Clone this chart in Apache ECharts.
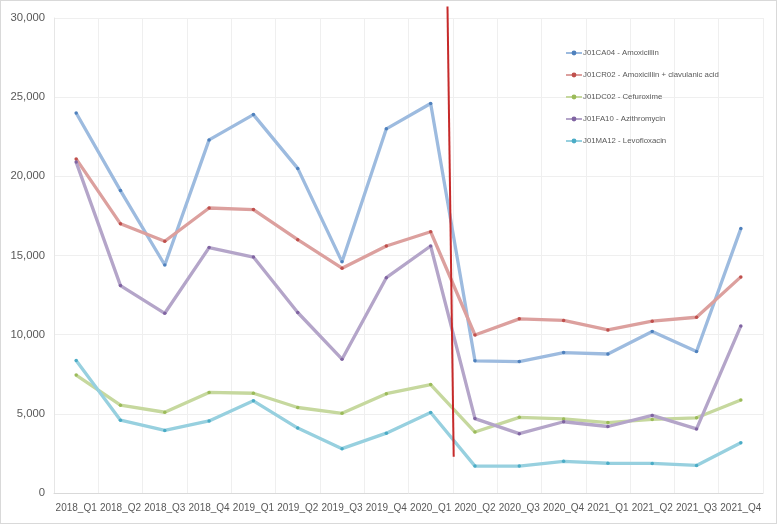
<!DOCTYPE html>
<html>
<head>
<meta charset="utf-8">
<script src="https://cdn.jsdelivr.net/npm/echarts@6/dist/echarts.min.js"></script>
<style>
html,body{margin:0;padding:0;background:#fff;}
#c{width:775px;height:522px;border:1px solid #d9d9d9;}
</style>
</head>
<body>
<div id="c"></div>
<script>
var categories = ['2018_Q1','2018_Q2','2018_Q3','2018_Q4','2019_Q1','2019_Q2','2019_Q3','2019_Q4','2020_Q1','2020_Q2','2020_Q3','2020_Q4','2021_Q1','2021_Q2','2021_Q3','2021_Q4'];
var seriesNames = ['J01CA04 - Amoxicillin','J01CR02 - Amoxicillin + clavulanic acid','J01DC02 - Cefuroxime','J01FA10 - Azithromycin','J01MA12 - Levofloxacin'];
var amoxicillin   = [24000,19100,14400,22300,23900,20500,14600,23000,24600,8350,8300,8870,8780,10200,8940,16700];
var amoxiClav     = [21100,17000,15900,18000,17900,16000,14200,15600,16500,9980,11000,10900,10300,10850,11100,13650];
var cefuroxime    = [7450,5550,5100,6350,6300,5400,5030,6270,6850,3850,4780,4680,4450,4650,4750,5870];
var azithromycin  = [20900,13100,11350,15500,14900,11400,8450,13600,15600,4700,3750,4500,4200,4900,4050,10550];
var levofloxacin  = [8370,4600,3950,4550,5820,4100,2800,3780,5080,1700,1700,2000,1880,1870,1740,3170];
var yTicks = [0,5000,10000,15000,20000,25000,30000];
// annotation line (vertical divider) endpoints in data space: [category position, value]
var dividerTop = [8.38, 30730];
var dividerBottom = [8.52, 2290];

var lineColors = ['#9dbbdf','#dca09e','#c6d89e','#b4a5c9','#97d0df'];
var dotColors  = ['#4f81bd','#c0504d','#9bbb59','#8064a2','#4bacc6'];
var allData = [amoxicillin, amoxiClav, cefuroxime, azithromycin, levofloxacin];

var chart = echarts.init(document.getElementById('c'), null, {renderer:'canvas'});
var series = allData.map(function(d,i){
  return {
    name: seriesNames[i],
    type: 'line',
    data: d,
    symbol: 'circle',
    symbolSize: 3.5,
    showSymbol: true,
    itemStyle: {color: dotColors[i]},
    lineStyle: {color: lineColors[i], width: 3.3},
    emphasis: {disabled: true},
    animation: false,
    z: 2
  };
});
var font = '"Liberation Sans", Arial, sans-serif';
chart.setOption({
  animation: false,
  grid: {left: 53, right: 13, top: 17, bottom: 30, containLabel: false},
  legend: {
    orient: 'vertical',
    left: 559, top: 43,
    itemWidth: 16, itemHeight: 6,
    itemGap: 14,
    textStyle: {fontFamily: font, fontSize: 7.8, color: '#595959', padding: [0,0,0,-4]},
    data: seriesNames
  },
  xAxis: {
    type: 'category',
    data: categories,
    boundaryGap: true,
    axisLine: {show: true, lineStyle: {color: '#d9d9d9'}},
    axisTick: {show: false},
    splitLine: {show: true, lineStyle: {color: '#efefef'}},
    axisLabel: {fontFamily: font, fontSize: 10, color: '#595959', margin: 10, interval: 0}
  },
  yAxis: {
    type: 'value',
    min: yTicks[0], max: yTicks[yTicks.length-1], interval: yTicks[1]-yTicks[0],
    axisLine: {show: true, lineStyle: {color: '#e6e6e6'}},
    axisTick: {show: false},
    splitLine: {show: true, lineStyle: {color: '#efefef'}},
    axisLabel: {fontFamily: font, fontSize: 11.3, color: '#595959', margin: 9,
      formatter: function(v){ return v.toLocaleString('en-US'); }}
  },
  series: series
});
function toPx(pt){
  var i0 = Math.floor(pt[0]), f = pt[0] - i0;
  var a = chart.convertToPixel({xAxisIndex:0, yAxisIndex:0}, [i0, pt[1]]);
  var b = chart.convertToPixel({xAxisIndex:0, yAxisIndex:0}, [i0 + 1, pt[1]]);
  return [a[0] + (b[0]-a[0])*f, a[1]];
}
var p1 = toPx(dividerTop);
var p2 = toPx(dividerBottom);
chart.setOption({
  graphic: [{
    type: 'line', z: 100,
    shape: {x1: p1[0], y1: p1[1], x2: p2[0], y2: p2[1]},
    style: {stroke: '#c62a2a', lineWidth: 2}
  }]
});
</script>
</body>
</html>
